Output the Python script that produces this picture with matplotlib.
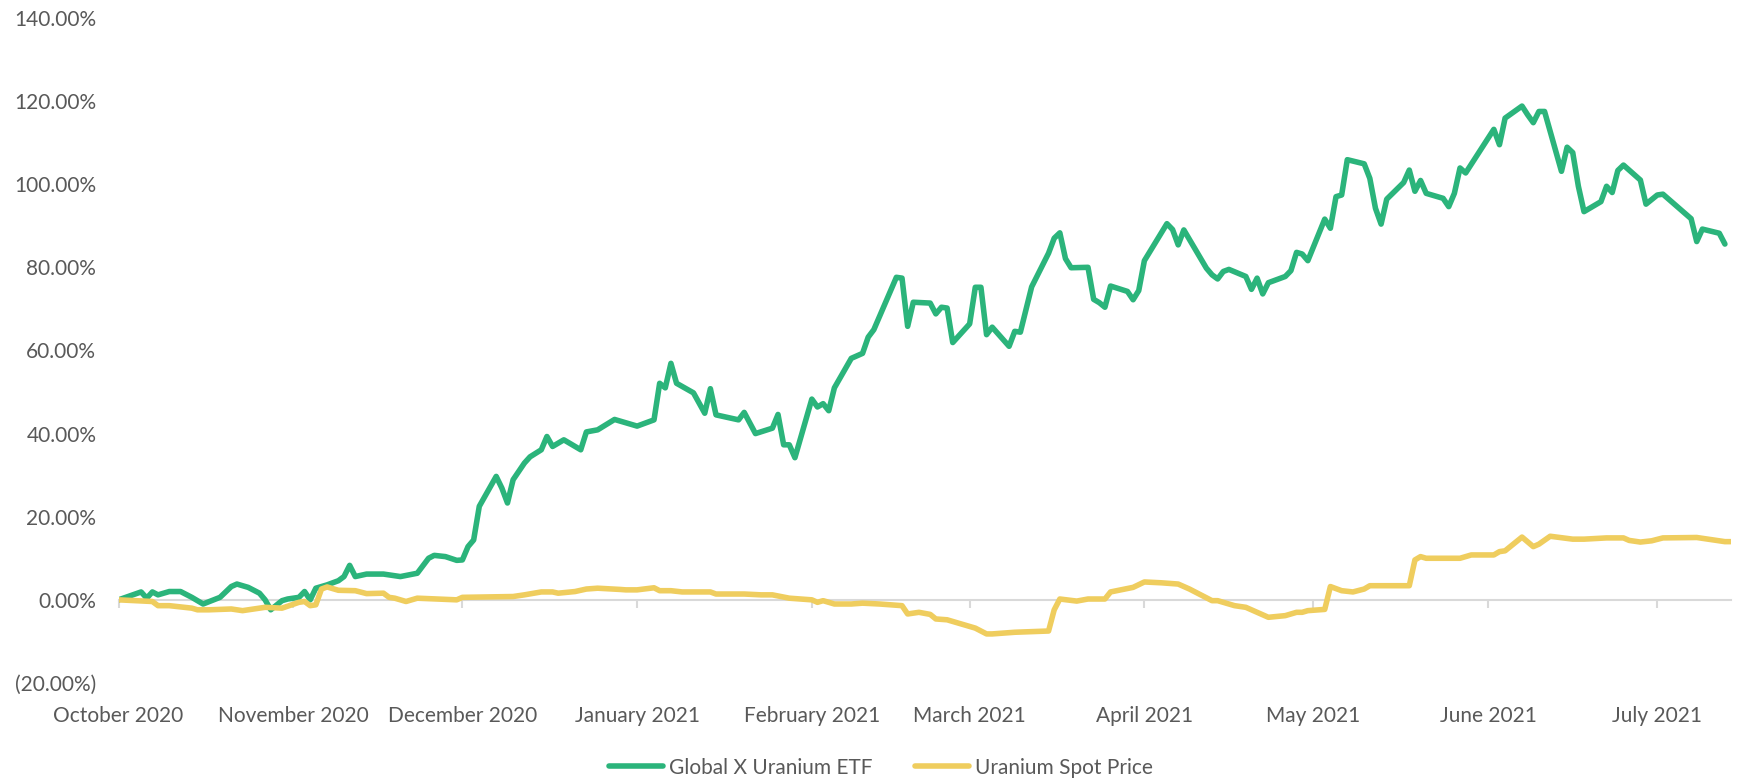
import pandas as pd
import matplotlib.pyplot as plt
import matplotlib.transforms as mtransforms

# days counted from 1 October 2020, values are cumulative return in %
start = pd.Timestamp("2020-10-01")

etf_days = [0, 4, 5, 6, 7, 9, 11, 13, 14, 15, 18, 20, 21, 23, 25, 26, 27, 29, 30, 32,
            33, 34, 35, 37, 39, 40, 41, 42, 44, 47, 50, 53, 55, 56, 58, 60, 61, 62, 63, 64,
            65, 67, 68, 69, 70, 72, 73, 75, 76, 77, 79, 82, 83, 85, 88, 90, 92, 95, 96, 97,
            98, 99, 102, 104, 105, 106, 110, 111, 113, 116, 117, 118, 119, 120, 123, 124, 125, 126, 127, 130,
            132, 133, 134, 138, 139, 140, 141, 144, 145, 146, 147, 148, 151, 152, 153, 154, 155, 158, 159, 160,
            162, 165, 166, 167, 168, 169, 172, 173, 174, 175, 176, 179, 180, 181, 182, 186, 187, 188, 189, 193,
            194, 195, 196, 197, 200, 201, 202, 203, 204, 207, 208, 209, 210, 211, 214, 215, 216, 217, 218, 221,
            222, 223, 224, 225, 228, 229, 230, 231, 232, 235, 236, 237, 238, 239, 244, 245, 246, 249, 250, 251,
            252, 253, 256, 257, 258, 259, 260, 263, 264, 265, 266, 267, 270, 271, 273, 274, 279, 280, 281, 284,
            285]
etf_ret = [0.0, 1.9, 0.4, 1.9, 1.2, 2.0, 2.0, 0.6, -0.2, -1.0, 0.6, 3.2, 3.8, 3.0, 1.6, 0.0, -2.4, -0.2, 0.2, 0.6,
           2.0, 0.0, 2.8, 3.6, 4.6, 5.6, 8.3, 5.6, 6.2, 6.2, 5.6, 6.4, 10.0, 10.7, 10.4, 9.5, 9.6, 12.8, 14.4, 22.5,
           24.9, 29.7, 26.9, 23.3, 28.9, 32.9, 34.4, 36.1, 39.3, 36.9, 38.5, 36.1, 40.4, 40.9, 43.4, 42.6, 41.8, 43.3, 52.1, 51.0,
           56.9, 52.1, 49.8, 44.9, 50.8, 44.5, 43.3, 45.1, 40.0, 41.3, 44.6, 37.3, 37.3, 34.2, 48.3, 46.4, 47.2, 45.5, 51.0, 58.1,
           59.3, 63.2, 65.0, 77.6, 77.4, 65.8, 71.6, 71.4, 68.8, 70.4, 70.2, 61.9, 66.4, 75.2, 75.2, 63.8, 65.6, 61.0, 64.6, 64.4,
           75.3, 83.4, 87.0, 88.3, 82.1, 79.9, 80.0, 72.3, 71.5, 70.4, 75.5, 74.2, 72.2, 74.4, 81.6, 90.5, 89.1, 85.4, 89.0, 79.8,
           78.2, 77.2, 79.0, 79.5, 77.8, 74.7, 77.4, 73.6, 76.3, 77.8, 79.2, 83.6, 83.2, 81.6, 91.6, 89.4, 97.0, 97.4, 105.9, 104.9,
           101.4, 94.2, 90.4, 96.4, 100.4, 103.4, 98.3, 100.9, 97.8, 96.6, 94.6, 97.8, 103.9, 102.7, 113.2, 109.5, 115.9, 118.8, 116.7, 114.8,
           117.5, 117.5, 103.1, 108.9, 107.6, 99.5, 93.4, 95.8, 99.5, 98.0, 103.3, 104.6, 101.0, 95.2, 97.4, 97.6, 91.7, 86.2, 89.2, 88.2,
           85.6]

spot_days = [0, 6, 7, 9, 13, 14, 16, 20, 22, 23, 26, 29, 32, 33, 34, 35, 36, 37, 39, 42,
             44, 47, 48, 49, 51, 53, 60, 61, 70, 72, 75, 77, 78, 81, 83, 85, 89, 90, 92, 95,
             96, 98, 100, 105, 106, 111, 114, 116, 119, 123, 124, 125, 127, 130, 132, 135, 139, 140, 142, 144,
             145, 147, 149, 152, 154, 155, 159, 165, 166, 167, 170, 172, 175, 176, 180, 182, 185, 188, 190, 194,
             195, 198, 200, 202, 204, 207, 209, 210, 211, 214, 215, 217, 219, 221, 222, 229, 230, 231, 232, 238,
             240, 244, 245, 246, 249, 251, 252, 254, 258, 260, 264, 267, 268, 270, 272, 274, 280, 282, 285, 286]
spot_ret = [0.0, -0.4, -1.4, -1.4, -2.0, -2.4, -2.4, -2.2, -2.6, -2.4, -1.8, -2.0, -0.6, -0.4, -1.4, -1.2, 2.6, 3.1, 2.3, 2.2,
            1.5, 1.6, 0.6, 0.4, -0.4, 0.4, 0.0, 0.6, 0.8, 1.2, 1.9, 1.9, 1.6, 2.0, 2.6, 2.8, 2.5, 2.4, 2.4, 2.9,
            2.2, 2.2, 1.9, 1.9, 1.4, 1.4, 1.2, 1.2, 0.4, 0.0, -0.6, -0.2, -1.0, -1.0, -0.8, -1.0, -1.4, -3.4, -3.0, -3.5,
            -4.6, -4.8, -5.6, -6.8, -8.2, -8.2, -7.8, -7.5, -2.4, 0.2, -0.3, 0.2, 0.2, 1.9, 3.0, 4.3, 4.1, 3.8, 2.6, -0.2,
            -0.2, -1.4, -1.8, -3.0, -4.2, -3.8, -3.0, -3.0, -2.6, -2.3, 3.2, 2.2, 1.9, 2.6, 3.4, 3.4, 9.6, 10.4, 10.0, 10.0,
            10.8, 10.8, 11.6, 11.8, 15.1, 12.8, 13.4, 15.3, 14.6, 14.6, 14.9, 14.9, 14.3, 13.9, 14.2, 14.9, 15.0, 14.6, 14.0, 14.0]

series_names = ["Global X Uranium ETF", "Uranium Spot Price"]
series_colors = ["#2BB47B", "#EFCD5E"]
y_ticks = [-20, 0, 20, 40, 60, 80, 100, 120, 140]
month_ticks = pd.date_range("2020-10-01", "2021-07-01", freq="MS")
end_date = start + pd.Timedelta(days=286)

plt.rcParams['font.family'] = ['Lato', 'DejaVu Sans']
text_color = "#595959"
axis_color = "#D9D9D9"

fig = plt.figure(figsize=(17.41, 7.8), dpi=100)
ax = fig.add_axes([0.0681, 0.1244, 0.9259, 0.8526])

etf_dates = start + pd.to_timedelta(etf_days, unit="D")
spot_dates = start + pd.to_timedelta(spot_days, unit="D")
ax.plot(etf_dates, etf_ret, color=series_colors[0], lw=4.0, label=series_names[0],
        solid_joinstyle="round", solid_capstyle="round", zorder=3)
ax.plot(spot_dates, spot_ret, color=series_colors[1], lw=4.0, label=series_names[1],
        solid_joinstyle="round", solid_capstyle="round", zorder=3)

ax.set_xlim(start, end_date)
ax.set_ylim(-20, 140)

# y axis: labels only, negatives in parentheses
ax.set_yticks(y_ticks)
ax.set_yticklabels([f"({abs(v):.2f}%)" if v < 0 else f"{v:.2f}%" for v in y_ticks])
ax.tick_params(axis="y", length=0, pad=16, labelsize=15, labelcolor=text_color)

# x axis line sits on zero, month labels sit below the plot
for side in ["left", "right", "top"]:
    ax.spines[side].set_visible(False)
ax.spines["bottom"].set_position(("data", 0))
ax.spines["bottom"].set_color(axis_color)
ax.spines["bottom"].set_linewidth(1.5)
ax.set_xticks(month_ticks)
ax.set_xticklabels([])
ax.tick_params(axis="x", direction="out", length=5.5, width=1.5, color=axis_color)

trans = mtransforms.blended_transform_factory(ax.transData, ax.transAxes)
for d in month_ticks:
    ax.text(d, -0.05, d.strftime("%B %Y"), transform=trans, ha="center", va="center",
            fontsize=15, color=text_color)

leg = fig.legend(loc="center", bbox_to_anchor=(0.506, 0.016), ncol=2, frameon=False,
                 fontsize=15, handlelength=2.6, handletextpad=0.3, columnspacing=2.0)
for t in leg.get_texts():
    t.set_color(text_color)

fig.savefig("out.png", dpi=100)
